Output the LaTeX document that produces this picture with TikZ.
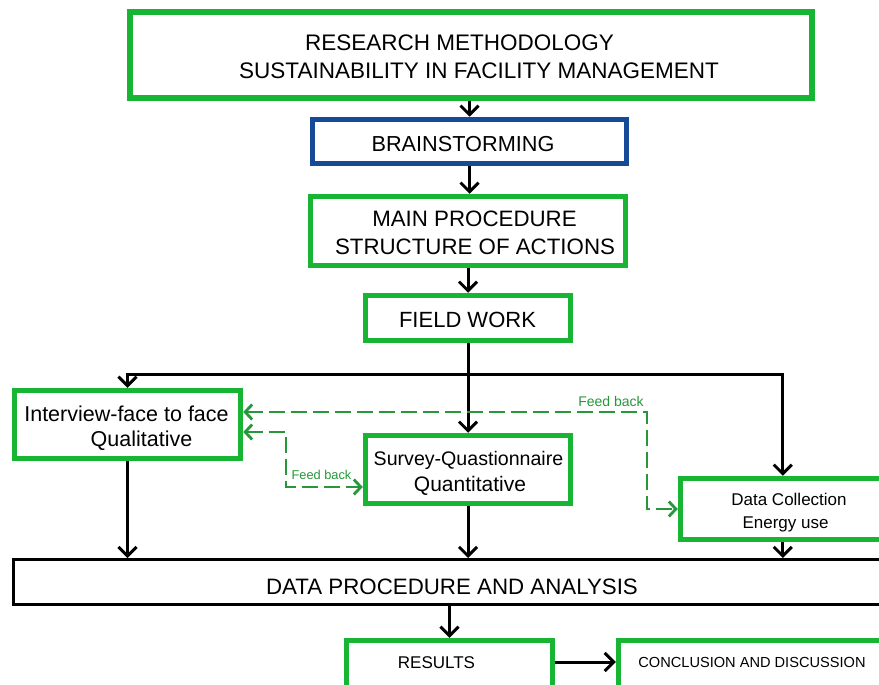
\documentclass[tikz,border=0pt]{standalone}
\usepackage{fontspec}
\setmainfont{Liberation Sans}
\usetikzlibrary{arrows.meta}
\definecolor{boxgreen}{RGB}{24,180,52}
\definecolor{boxblue}{RGB}{22,74,150}
\definecolor{fbgreen}{RGB}{38,152,58}
\newcommand{\fs}[1]{\fontsize{#1}{#1}\selectfont}
\begin{document}
\begin{tikzpicture}[x=1pt,y=-1pt,
  gbox/.style={draw=boxgreen, line width=5.5pt, rectangle, inner sep=0pt, fill=white},
  bbox/.style={draw=boxblue, line width=5.5pt, rectangle, inner sep=0pt, fill=white},
  kbox/.style={draw=black, line width=3pt, rectangle, inner sep=0pt, fill=white},
  txt/.style={anchor=base, inner sep=0pt, text=black},
  flow/.style={draw=black, line width=3pt, -{Straight Barb[length=9pt,width=18pt,line width=3pt]}},
  fb/.style={draw=fbgreen, line width=2.8pt, dash pattern=on 16pt off 6pt,
    {Straight Barb[length=7pt,width=15pt,line width=2.8pt]}-{Straight Barb[length=7pt,width=15pt,line width=2.8pt]}},
  fbtxt/.style={anchor=base, inner sep=0pt, text=fbgreen},
]
\useasboundingbox (0,0) rectangle (879,685);
\clip (0,0) rectangle (879,685);
\fill[white] (0,0) rectangle (879,685);

% boxes
\node[gbox, minimum width=682pt, minimum height=86pt] (top) at (471,55) {};
\node[bbox, minimum width=314pt, minimum height=44pt] (brain) at (469.5,141.5) {};
\node[gbox, minimum width=315pt, minimum height=69pt] (main) at (468,231) {};
\node[gbox, minimum width=205pt, minimum height=45pt] (field) at (468,318) {};
\node[gbox, minimum width=226pt, minimum height=68pt] (interview) at (127.5,424.5) {};
\node[gbox, minimum width=205pt, minimum height=68pt] (survey) at (468,469.5) {};
\node[gbox, minimum width=204.5pt, minimum height=61pt] (datacoll) at (782.75,509) {};
\node[kbox, minimum width=871.5pt, minimum height=45pt] (dataproc) at (449.25,582) {};
\node[gbox, minimum width=206pt, minimum height=51.5pt] (results) at (449.5,666.25) {};
\node[gbox, minimum width=266.5pt, minimum height=51.5pt] (concl) at (751.75,666.25) {};

% texts
\node[txt, anchor=base west, font=\fs{22.5}] (toptxta) at (305,51) {RESEARCH METHODOLOGY};
\node[txt, anchor=base west, font=\fs{22.5}] (toptxtb) at (239,79) {SUSTAINABILITY IN FACILITY MANAGEMENT};
\node[txt, font=\fs{21.7}] (braintxt) at (463,151) {BRAINSTORMING};
\node[txt, font=\fs{22.3}] (maintxta) at (474.5,226) {MAIN PROCEDURE};
\node[txt, font=\fs{22.3}] (maintxtb) at (475,254) {STRUCTURE OF ACTIONS};
\node[txt, font=\fs{22}] (fieldtxt) at (467.5,327) {FIELD WORK};
\node[txt, font=\fs{21.5}] (inttxta) at (126.5,421) {Interview-face to face};
\node[txt, font=\fs{21.5}] (inttxtb) at (141.5,446) {Qualitative};
\node[txt, font=\fs{19.6}] (survtxta) at (468.5,465) {Survey-Quastionnaire};
\node[txt, font=\fs{21}] (survtxtb) at (470,491) {Quantitative};
\node[txt, font=\fs{17}] (colltxta) at (789,505) {Data Collection};
\node[txt, font=\fs{17}] (colltxtb) at (785.5,528) {Energy use};
\node[txt, font=\fs{22.3}] (proctxt) at (452,594) {DATA PROCEDURE AND ANALYSIS};
\node[txt, font=\fs{17}] (restxt) at (436.5,668) {RESULTS};
\node[txt, font=\fs{14.6}] (conctxt) at (752,667) {CONCLUSION AND DISCUSSION};
\node[fbtxt, font=\fs{14}] (fbtxta) at (611,406) {Feed back};
\node[fbtxt, font=\fs{12.8}] (fbtxtb) at (321.5,479) {Feed back};

% main flow
\draw[flow] (brain.north |- top.south) -- (brain.north);
\draw[flow] (brain.south) -- (brain.south |- main.north);
\draw[flow] (field.north |- main.south) -- (field.north);

\coordinate (split) at (468,374);
\draw[flow] (field.south) -- (survey.north);
\draw[flow] (split) -| (interview.north);
\draw[flow] (split) -| (datacoll.north);

\draw[flow] (interview.south) -- (interview.south |- dataproc.north);
\draw[flow] (survey.south) -- (survey.south |- dataproc.north);
\draw[flow] (datacoll.south) -- (datacoll.south |- dataproc.north);

\draw[flow] (results.north |- dataproc.south) -- (results.north);
\draw[flow] ([yshift=4.25pt]results.east) -- ([yshift=4.25pt]concl.west);

% feedback loops
\coordinate (fbup) at (647,412);
\coordinate (fblow) at (286,432);
\draw[fb] ([yshift=12.5pt]interview.east) -- (fbup) |- (datacoll.west);
\draw[fb] ([yshift=-7.5pt]interview.east) -- (fblow) |- ([yshift=-17.5pt]survey.west);
\end{tikzpicture}
\end{document}
